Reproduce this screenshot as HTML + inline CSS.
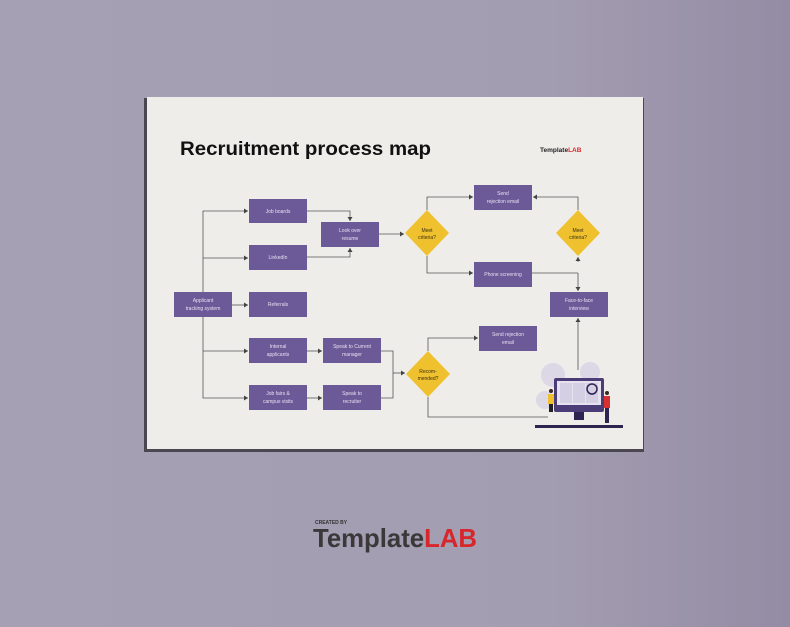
<!DOCTYPE html>
<html><head><meta charset="utf-8"><style>
html,body{margin:0;padding:0;width:790px;height:627px;overflow:hidden;background:#a49eb2}
svg{display:block}
.t{font-family:"Liberation Sans",sans-serif;font-size:5px;fill:#e6e0f2;text-anchor:middle}
.d{font-family:"Liberation Sans",sans-serif;font-size:5px;fill:#3a2f10;text-anchor:middle}
</style></head><body>
<svg width="790" height="627" viewBox="0 0 790 627" xmlns="http://www.w3.org/2000/svg">
<defs>
<linearGradient id="bg" x1="0" y1="0" x2="1" y2="0">
<stop offset="0" stop-color="#a6a0b4"/><stop offset="0.7" stop-color="#a39db1"/><stop offset="1" stop-color="#938ca4"/>
</linearGradient>
<marker id="a" markerWidth="5" markerHeight="5" refX="4" refY="2.5" orient="auto" markerUnits="userSpaceOnUse"><path d="M0,0 L4,2.5 L0,5 z" fill="#444"/></marker>
</defs>
<rect width="790" height="627" fill="url(#bg)"/>
<rect x="144" y="98" width="500" height="354" fill="#4a4652"/>
<rect x="147" y="97" width="496" height="352" fill="#efedea"/>
<text x="180" y="155" font-family="Liberation Sans,sans-serif" font-weight="bold" font-size="19" fill="#111" textLength="251" lengthAdjust="spacingAndGlyphs">Recruitment process map</text>
<text x="540" y="152" font-family="Liberation Sans,sans-serif" font-weight="bold" font-size="6.5" fill="#222">Template<tspan fill="#d62a2a">LAB</tspan></text>
<g stroke="#555" stroke-width="0.8" fill="none">
<path d="M203,292 V211 H248" marker-end="url(#a)"/>
<path d="M203,258 H248" marker-end="url(#a)"/>
<path d="M232,305 H248" marker-end="url(#a)"/>
<path d="M203,317 V398 H248" marker-end="url(#a)"/>
<path d="M203,351 H248" marker-end="url(#a)"/>
<path d="M307,211 H350 V221" marker-end="url(#a)"/>
<path d="M307,257 H350 V248" marker-end="url(#a)"/>
<path d="M379,234 H404" marker-end="url(#a)"/>
<path d="M427,210 V197 H473" marker-end="url(#a)"/>
<path d="M427,256 V273 H473" marker-end="url(#a)"/>
<path d="M532,273 H578"/>
<path d="M578,210 V197 H533" marker-end="url(#a)"/>
<path d="M578,262 V257" marker-end="url(#a)"/>
<path d="M578,273 V291" marker-end="url(#a)"/>
<path d="M307,351 H322" marker-end="url(#a)"/>
<path d="M307,398 H322" marker-end="url(#a)"/>
<path d="M381,351 H393 V398 H381"/>
<path d="M393,373 H405" marker-end="url(#a)"/>
<path d="M428,351 V338 H478" marker-end="url(#a)"/>
<path d="M428,397 V417 H548"/>
<path d="M578,370 V318" marker-end="url(#a)"/>
</g>
<g fill="#6c5a98">
<rect x="249" y="199" width="58" height="24"/>
<rect x="249" y="245" width="58" height="25"/>
<rect x="249" y="292" width="58" height="25"/>
<rect x="249" y="338" width="58" height="25"/>
<rect x="249" y="385" width="58" height="25"/>
<rect x="174" y="292" width="58" height="25"/>
<rect x="321" y="222" width="58" height="25"/>
<rect x="323" y="338" width="58" height="25"/>
<rect x="323" y="385" width="58" height="25"/>
<rect x="474" y="185" width="58" height="25"/>
<rect x="474" y="262" width="58" height="25"/>
<rect x="550" y="292" width="58" height="25"/>
<rect x="479" y="326" width="58" height="25"/>
</g>
<g fill="#f0c12f">
<path d="M427,210 L449,233 L427,256 L405,233 z"/>
<path d="M578,210 L600,233 L578,256 L556,233 z"/>
<path d="M428,351 L450,374 L428,397 L406,374 z"/>
</g>
<text class="t" x="278" y="213">Job boards</text>
<text class="t" x="278" y="259">LinkedIn</text>
<text class="t" x="278" y="306">Referrals</text>
<text class="t" x="278" y="348">Internal</text><text class="t" x="278" y="356">applicants</text>
<text class="t" x="278" y="395">Job fairs &amp;</text><text class="t" x="278" y="403">campus visits</text>
<text class="t" x="203" y="302">Applicant</text><text class="t" x="203" y="310">tracking system</text>
<text class="t" x="350" y="232">Look over</text><text class="t" x="350" y="240">resume</text>
<text class="t" x="352" y="348">Speak to Current</text><text class="t" x="352" y="356">manager</text>
<text class="t" x="352" y="395">Speak to</text><text class="t" x="352" y="403">recruiter</text>
<text class="t" x="503" y="195">Send</text><text class="t" x="503" y="203">rejection email</text>
<text class="t" x="503" y="276">Phone screening</text>
<text class="t" x="579" y="302">Face-to-face</text><text class="t" x="579" y="310">interview</text>
<text class="t" x="508" y="336">Send rejection</text><text class="t" x="508" y="344">email</text>
<text class="d" x="427" y="232">Meet</text><text class="d" x="427" y="239">criteria?</text>
<text class="d" x="578" y="232">Meet</text><text class="d" x="578" y="239">criteria?</text>
<text class="d" x="428" y="373">Recom-</text><text class="d" x="428" y="380">mended?</text>
<g>
<circle cx="553" cy="375" r="12" fill="#dcd8e6"/>
<circle cx="590" cy="372" r="10" fill="#dcd8e6"/>
<circle cx="545" cy="400" r="9" fill="#dcd8e6"/>
<rect x="554" y="378" width="50" height="34" rx="2" fill="#4a3d78"/>
<rect x="557" y="381" width="44" height="24" fill="#e6e2f0"/>
<rect x="560" y="383" width="12" height="20" fill="#d5cfe4"/>
<rect x="573" y="383" width="12" height="20" fill="#d5cfe4"/>
<rect x="586" y="383" width="12" height="20" fill="#d5cfe4"/>
<rect x="574" y="412" width="10" height="8" fill="#2d2550"/>
<rect x="535" y="425" width="88" height="3" fill="#2d2550"/>
<circle cx="592" cy="389" r="5" fill="none" stroke="#2d2550" stroke-width="1.5"/>
<rect x="548" y="394" width="6" height="10" fill="#f0c12f"/>
<rect x="549" y="404" width="4" height="8" fill="#222"/>
<circle cx="551" cy="391" r="2" fill="#3a2a20"/>
<rect x="604" y="396" width="6" height="12" fill="#d63030"/>
<rect x="605" y="408" width="4" height="15" fill="#2d2550"/>
<circle cx="607" cy="393" r="2" fill="#3a2a20"/>
</g>
<text x="315" y="524" font-family="Liberation Sans,sans-serif" font-weight="bold" font-size="5" fill="#333">CREATED BY</text>
<text x="313" y="547" font-family="Liberation Sans,sans-serif" font-weight="bold" font-size="26" fill="#3a3838" textLength="164" lengthAdjust="spacingAndGlyphs">Template<tspan fill="#d7262c">LAB</tspan></text>
</svg>
</body></html>
